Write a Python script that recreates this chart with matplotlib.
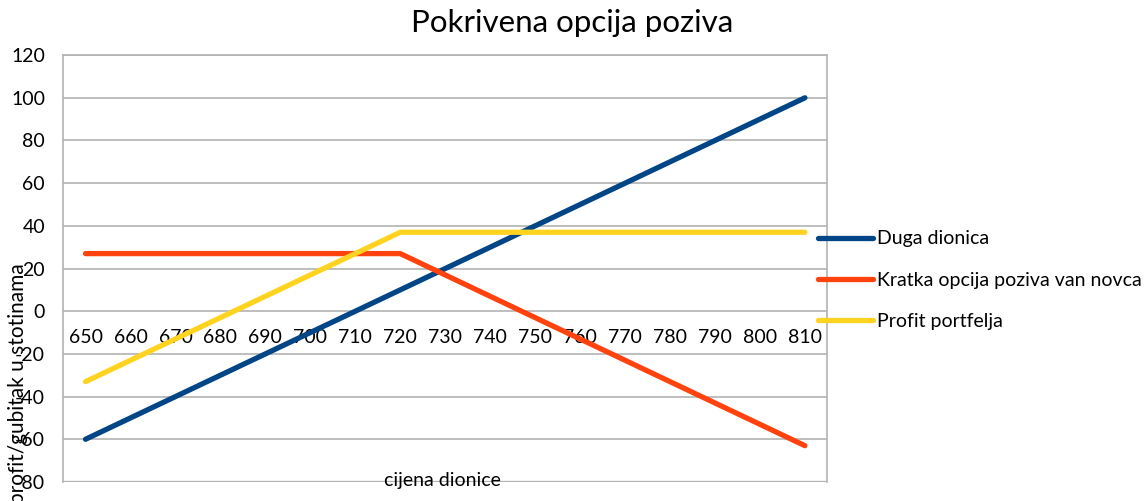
import matplotlib.pyplot as plt
import numpy as np

plt.rcParams['font.family'] = ['Lato', 'DejaVu Sans']

# share price scenarios (categories on x axis)
prices = [650, 660, 670, 680, 690, 700, 710, 720, 730, 740,
          750, 760, 770, 780, 790, 800, 810]

# payoff of each position, in hundreds
duga_dionica = [-60, -50, -40, -30, -20, -10, 0, 10, 20, 30,
                40, 50, 60, 70, 80, 90, 100]
kratka_opcija = [27, 27, 27, 27, 27, 27, 27, 27, 17, 7,
                 -3, -13, -23, -33, -43, -53, -63]
profit_portfelja = [-33, -23, -13, -3, 7, 17, 27, 37, 37, 37,
                    37, 37, 37, 37, 37, 37, 37]

y_ticks = [-80, -60, -40, -20, 0, 20, 40, 60, 80, 100, 120]

fig = plt.figure(figsize=(11.46, 5.01), dpi=100)
ax = fig.add_axes([0.055, 0.038, 0.667, 0.852])

x = np.arange(len(prices))
lw = 3.8
ax.plot(x, duga_dionica, color='#004586', lw=lw, solid_capstyle='round',
        solid_joinstyle='round', label='Duga dionica')
ax.plot(x, kratka_opcija, color='#ff420e', lw=lw, solid_capstyle='round',
        solid_joinstyle='round', label='Kratka opcija poziva van novca')
ax.plot(x, profit_portfelja, color='#ffd320', lw=lw, solid_capstyle='round',
        solid_joinstyle='round', label='Profit portfelja')

ax.set_xlim(-0.5, len(prices) - 0.5)
ax.set_ylim(-80, 120)
ax.set_yticks(y_ticks)
ax.set_yticklabels([str(v) for v in y_ticks])
ax.set_xticks(x)
ax.set_xticklabels([str(p) for p in prices])
ax.tick_params(axis='both', length=0, labelsize=14)
ax.tick_params(axis='y', pad=13)
ax.tick_params(axis='x', pad=13)

ax.grid(axis='y', color='#b3b3b3', lw=1.2)
ax.set_axisbelow(True)

# category axis crosses at zero
ax.spines['bottom'].set_position(('data', 0))
ax.spines['bottom'].set_color('none')
ax.axhline(-80, color='#b3b3b3', lw=2.4, zorder=0)
for side in ['left', 'right', 'top']:
    ax.spines[side].set_color('#b3b3b3')
    ax.spines[side].set_linewidth(1.2)

fig.text(0.499, 0.955, 'Pokrivena opcija poziva', ha='center', va='center',
         fontsize=22.5)
fig.text(0.386, 0.04, 'cijena dionice', ha='center', va='center',
         fontsize=14)
fig.text(0.016, 0.235, 'profit/gubitak u stotinama', ha='center', va='center',
         rotation=90, fontsize=15)

fig.legend(loc='upper left', bbox_to_anchor=(0.6985, 0.575), frameon=False,
           fontsize=14, handlelength=2.85, handletextpad=0.2,
           labelspacing=1.25)

fig.savefig('out.png', dpi=100)
